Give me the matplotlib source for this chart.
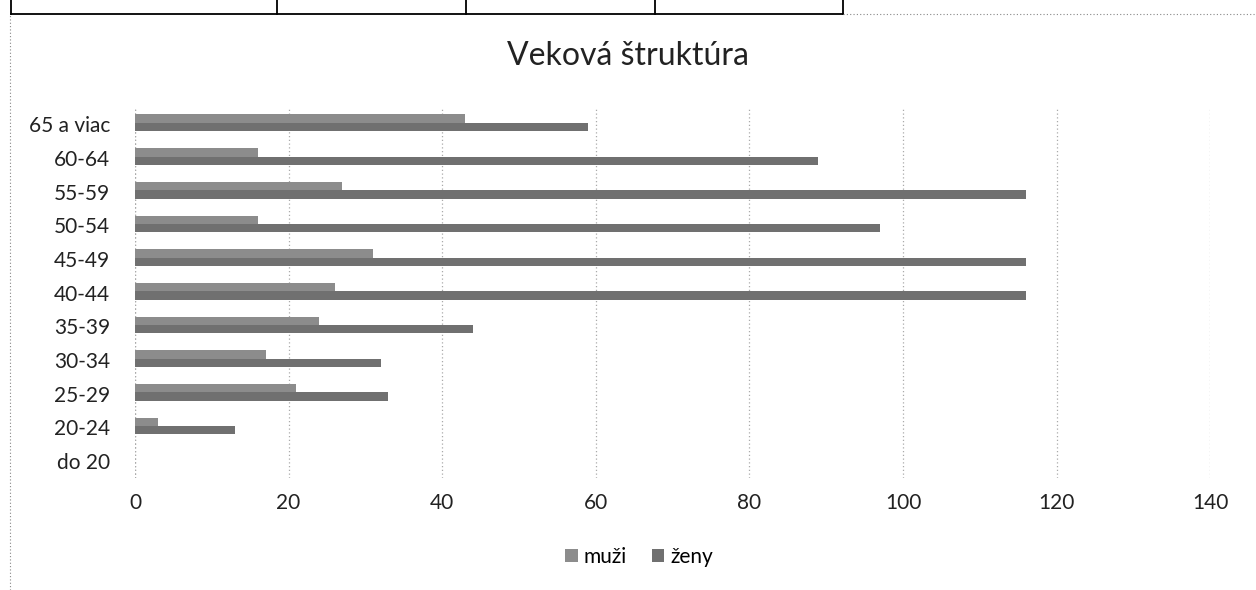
import numpy as np
import matplotlib.pyplot as plt
from matplotlib.lines import Line2D

categories = ['do 20', '20-24', '25-29', '30-34', '35-39', '40-44',
              '45-49', '50-54', '55-59', '60-64', '65 a viac']
muzi = [0, 3, 21, 17, 24, 26, 31, 16, 27, 16, 43]
zeny = [0, 13, 33, 32, 44, 116, 116, 97, 116, 89, 59]
xticks = [0, 20, 40, 60, 80, 100, 120, 140]

plt.rcParams['font.family'] = ['Lato', 'DejaVu Sans']

fig = plt.figure(figsize=(12.56, 5.9), dpi=100)
ax = fig.add_axes([0.1075, 0.19, 0.856, 0.628])

y = np.arange(len(categories))
h = 0.25
ax.barh(y + h / 2 + 0.04, muzi, height=h, color='#8c8c8c', label='muži', zorder=2)
ax.barh(y - h / 2 + 0.04, zeny, height=h, color='#707070', label='ženy', zorder=2)

ax.set_xlim(0, 140)
ax.set_ylim(-0.5, len(categories) - 0.5)
ax.set_xticks(xticks)
ax.set_yticks(y)
ax.set_yticklabels(categories)
ax.tick_params(axis='both', length=0, labelsize=15, colors='#222222')
ax.tick_params(axis='x', pad=11)
ax.tick_params(axis='y', pad=18)
ax.grid(axis='x', color='#aaaaaa', linestyle=(0, (1, 2)), linewidth=0.9, zorder=0)
ax.axvline(0, color='#999999', linestyle=(0, (1, 2)), linewidth=0.9, zorder=0)
for s in ax.spines.values():
    s.set_visible(False)

fig.text(0.5, 0.905, 'Veková štruktúra', ha='center', va='center', fontsize=23, color='#222222')

leg = fig.legend(loc='center', bbox_to_anchor=(0.509, 0.056), ncol=2, frameon=False,
                 fontsize=15, handlelength=0.6, handleheight=0.6, handletextpad=0.3,
                 columnspacing=1.2)

# scanned page remnants: table edge above, dotted chart border
fy = 1 - 14 / 590
fig.add_artist(Line2D([11 / 1256, 843 / 1256], [fy, fy], color='black', lw=1.3))
for px in [11, 277, 466, 655, 843]:
    fig.add_artist(Line2D([px / 1256, px / 1256], [fy, 1], color='black', lw=1.3))
fig.add_artist(Line2D([843 / 1256, 1], [fy, fy], color='#888888', lw=0.8, linestyle=(0, (1, 2))))
fig.add_artist(Line2D([10 / 1256, 10 / 1256], [0, fy], color='#888888', lw=0.8, linestyle=(0, (1, 2))))

fig.savefig('out.png', dpi=100)
